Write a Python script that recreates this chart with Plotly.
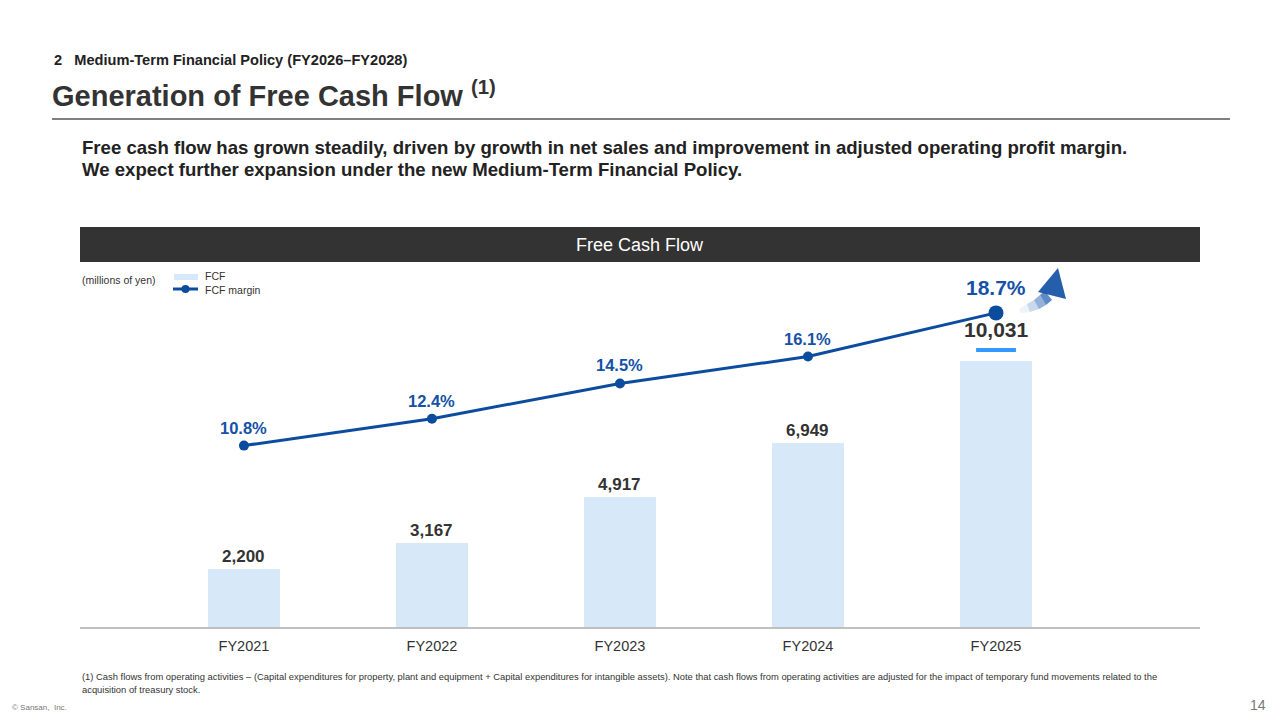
import plotly.graph_objects as go

# data
years = ['FY2021', 'FY2022', 'FY2023', 'FY2024', 'FY2025']
fcf = [2200, 3167, 4917, 6949, 10031]
fcf_margin = [10.8, 12.4, 14.5, 16.1, 18.7]

FONT = 'Liberation Sans, Arial, sans-serif'
BAR_COLOR = '#d7e9f8'
LINE_COLOR = '#0b4c9e'
DARK = '#333333'

# plot area in pixels: x 80..1200, y 262..627
L, R, T, B = 80, 1200, 262, 627


def px(x):
    return (x - L) / (R - L)


def py(y):
    return (B - y) / (B - T)


def text_at(x, y, text, size, color=DARK, anchor='left'):
    return dict(x=px(x), y=py(y), xref='paper', yref='paper', xanchor=anchor,
                yanchor='middle', text=text, showarrow=False,
                font=dict(family=FONT, size=size, color=color))


xs = list(range(len(years)))

fig = go.Figure()
fig.add_trace(go.Bar(x=xs, y=fcf, name='FCF', marker_color=BAR_COLOR,
                     marker_line_width=0, width=0.383, showlegend=False, hoverinfo='skip'))
fig.add_trace(go.Scatter(x=xs, y=fcf_margin, name='FCF margin', yaxis='y2',
                         mode='lines+markers',
                         line=dict(color=LINE_COLOR, width=3),
                         marker=dict(color=LINE_COLOR, size=[10, 10, 10, 10, 15],
                                     opacity=1, line=dict(width=0)),
                         showlegend=False, hoverinfo='skip'))

ann = []
shapes = []

# value labels
for i, v in enumerate(fcf):
    last = i == len(fcf) - 1
    ann.append(dict(x=i, y=v, xref='x', yref='y', text='<b>{:,}</b>'.format(v),
                    showarrow=False, xanchor='center', yanchor='bottom', yshift=18 if last else 1,
                    font=dict(family=FONT, size=21 if last else 17, color=DARK)))
for i, m in enumerate(fcf_margin):
    last = i == len(fcf_margin) - 1
    ann.append(dict(x=i, y=m, xref='x', yref='y2', text='<b>{:.1f}%</b>'.format(m),
                    showarrow=False, xanchor='center', yanchor='bottom', yshift=12 if last else 7,
                    font=dict(family=FONT, size=21 if last else 16.5, color='#1452a6')))

# highlight dash under 10,031
shapes.append(dict(type='line', xref='x', yref='paper', x0=3.894, x1=4.106,
                   y0=py(350), y1=py(350), line=dict(color='#3399ff', width=4)))

# banner
shapes.append(dict(type='rect', xref='paper', yref='paper', x0=0, x1=1,
                   y0=py(262), y1=py(227), fillcolor='#333333', line_width=0, layer='below'))
ann.append(text_at(640, 245, 'Free Cash Flow', 18, 'white', 'center'))

# header
ann.append(text_at(52, 60, '<b>2   Medium-Term Financial Policy (FY2026–FY2028)</b>', 14.6, '#222222'))
ann.append(text_at(50, 94, '<b>Generation of Free Cash Flow</b> <b><sup>(1)</sup></b>', 29, '#333333'))
shapes.append(dict(type='line', xref='paper', yref='paper', x0=px(52), x1=px(1230),
                   y0=py(119), y1=py(119), line=dict(color='#555555', width=1.5)))
ann.append(text_at(80, 147, '<b>Free cash flow has grown steadily, driven by growth in net sales and improvement in adjusted operating profit margin.</b>', 18.6, '#222222'))
ann.append(text_at(80, 169, '<b>We expect further expansion under the new Medium-Term Financial Policy.</b>', 18.6, '#222222'))

# unit + legend
ann.append(text_at(80, 280, '(millions of yen)', 10.5))
shapes.append(dict(type='rect', xref='paper', yref='paper', x0=px(174), x1=px(198),
                   y0=py(280), y1=py(274), fillcolor=BAR_COLOR, line_width=0))
shapes.append(dict(type='line', xref='paper', yref='paper', x0=px(173), x1=px(198),
                   y0=py(289), y1=py(289), line=dict(color=LINE_COLOR, width=3)))
shapes.append(dict(type='circle', xref='paper', yref='paper', x0=px(181.5), x1=px(189.5),
                   y0=py(293), y1=py(285), fillcolor=LINE_COLOR, line_width=0))
ann.append(text_at(203, 276, 'FCF', 10.5))
ann.append(text_at(203, 290, 'FCF margin', 10.5))


# curved growth arrow (decoration), shaft fades towards the tail
def path(pts):
    return 'M ' + ' L '.join('{:.5f},{:.5f}'.format(px(a), py(b)) for a, b in pts) + ' Z'


upper = [(1019, 309), (1027, 304), (1034, 300), (1040, 295), (1045, 291)]
lower = [(1020, 313), (1030, 312), (1039, 309), (1046, 305), (1052, 300)]
alphas = [0.08, 0.25, 0.5, 0.75]
for k, a in enumerate(alphas):
    shapes.append(dict(type='path', xref='paper', yref='paper',
                       path=path([upper[k], upper[k + 1], lower[k + 1], lower[k]]),
                       fillcolor='rgba(40,100,180,{})'.format(a), line_width=0))
shapes.append(dict(type='path', xref='paper', yref='paper',
                   path=path([(1038, 292), (1058, 268), (1066, 299)]),
                   fillcolor='rgba(25,85,165,0.95)', line_width=0))

# footnotes
ann.append(text_at(80, 676, '(1) Cash flows from operating activities – (Capital expenditures for property, plant and equipment + Capital expenditures for intangible assets). Note that cash flows from operating activities are adjusted for the impact of temporary fund movements related to the', 9.4))
ann.append(text_at(80, 689, 'acquisition of treasury stock.', 9.4))
ann.append(text_at(10, 707, '© Sansan,  Inc.', 8, '#777777'))
ann.append(text_at(1268, 705, '14', 14, '#777777', 'right'))

fig.update_layout(
    width=1280, height=720,
    margin=dict(l=L, r=1280 - R, t=T, b=720 - B),
    paper_bgcolor='white', plot_bgcolor='white',
    font=dict(family=FONT),
    bargap=0,
    xaxis=dict(tickvals=xs, ticktext=years, range=[-0.872, 5.085],
               showline=True, linecolor='#bfbfbf', linewidth=1.5,
               showgrid=False, zeroline=False, ticks='', ticklabelstandoff=5,
               tickfont=dict(family=FONT, size=14.5, color=DARK)),
    yaxis=dict(range=[0, 13763], visible=False),
    yaxis2=dict(range=[0, 21.73], overlaying='y', visible=False),
    annotations=ann,
    shapes=shapes,
)

fig.write_html('out.html', config={'displayModeBar': False},
               post_script="document.body.style.margin='0';")
